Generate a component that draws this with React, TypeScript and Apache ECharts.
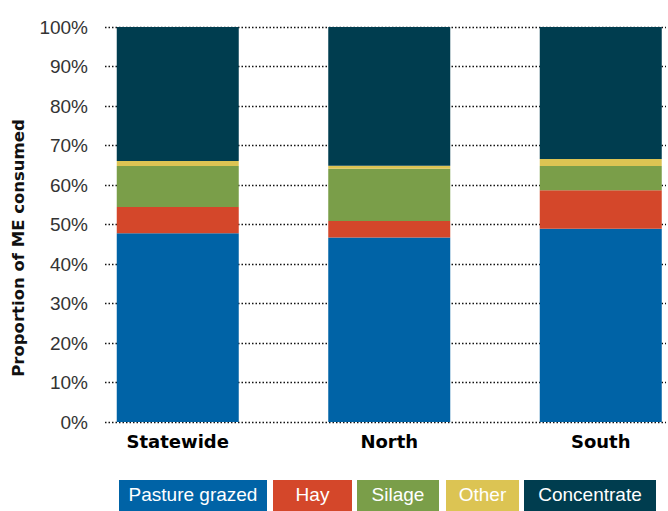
import React, { useEffect, useRef } from "react";
import * as echarts from "echarts";

const categories = ["Statewide", "North", "South"];
const seriesNames = ["Pasture grazed", "Hay", "Silage", "Other", "Concentrate"];
const pastureGrazed = [47.8, 46.7, 48.9];
const hay = [6.6, 4.2, 9.8];
const silage = [10.4, 13.2, 6.1];
const other = [1.3, 0.8, 1.8];
const concentrate = [33.9, 35.1, 33.4];
const seriesValues = [pastureGrazed, hay, silage, other, concentrate];
const yTitle = "Proportion of ME consumed";

const COLORS = ["#0063a6", "#d4472a", "#7a9e49", "#dcc453", "#003d4f"];
// legend box layout: [left, width]
const LEGEND_LAYOUT: [number, number][] = [
  [119, 148],
  [273, 79],
  [357, 82],
  [446, 73],
  [524, 132],
];

export default function App() {
  const ref = useRef<HTMLDivElement>(null);
  useEffect(() => {
    if (!ref.current) return;
    const chart = echarts.init(ref.current, undefined, { renderer: "svg" });
    const legendGraphics: any[] = [];
    seriesNames.forEach((name, i) => {
      const [lx, lw] = LEGEND_LAYOUT[i];
      legendGraphics.push({
        type: "rect",
        shape: { x: lx, y: 480, width: lw, height: 32 },
        style: { fill: COLORS[i] },
      });
      legendGraphics.push({
        type: "text",
        x: lx + lw / 2,
        y: 494,
        style: {
          text: name,
          fill: "#ffffff",
          font: "19px 'Liberation Sans', Arial, sans-serif",
          align: "center",
          verticalAlign: "middle",
        },
      });
    });
    chart.setOption({
      animation: false,
      grid: [
        { left: 105, right: 2, top: 27, bottom: 89, outerBoundsMode: "none", containLabel: false },
        { left: 72, width: 634.5, top: 27, bottom: 89, outerBoundsMode: "none", containLabel: false },
      ],
      xAxis: [
        { gridIndex: 0, type: "value", show: false },
        {
          gridIndex: 1,
          type: "category",
          data: categories,
          axisLine: { show: false },
          axisTick: { show: false },
          axisLabel: {
            margin: 10,
            color: "#000",
            fontSize: 18,
            fontWeight: "bold",
            fontFamily: "'DejaVu Sans', sans-serif",
          },
        },
      ],
      yAxis: [
        {
          gridIndex: 0,
          type: "value",
          min: 0,
          max: 100,
          interval: 10,
          axisLine: { show: false },
          axisTick: { show: false },
          axisLabel: {
            formatter: "{value}%",
            margin: 17,
            color: "#333",
            fontSize: 19,
            fontFamily: "'Liberation Sans', Arial, sans-serif",
          },
          splitLine: {
            show: true,
            lineStyle: { color: "#111", width: 1.3, type: [1.5, 2] },
          },
        },
        { gridIndex: 1, type: "value", min: 0, max: 100, show: false },
      ],
      series: seriesNames.map((name, i) => ({
        name,
        type: "bar",
        stack: "total",
        xAxisIndex: 1,
        yAxisIndex: 1,
        barWidth: 122,
        data: seriesValues[i],
        itemStyle: { color: COLORS[i] },
      })),
      graphic: [
        {
          type: "text",
          x: 18,
          y: 248,
          rotation: Math.PI / 2,
          style: {
            text: yTitle,
            fill: "#111",
            font: "bold 16.5px 'DejaVu Sans', sans-serif",
            align: "center",
            verticalAlign: "middle",
          },
        },
        ...legendGraphics,
      ],
    });
    return () => chart.dispose();
  }, []);
  return (
    <div
      ref={ref}
      style={{ position: "absolute", left: 0, top: 0, width: 668, height: 511 }}
    />
  );
}
